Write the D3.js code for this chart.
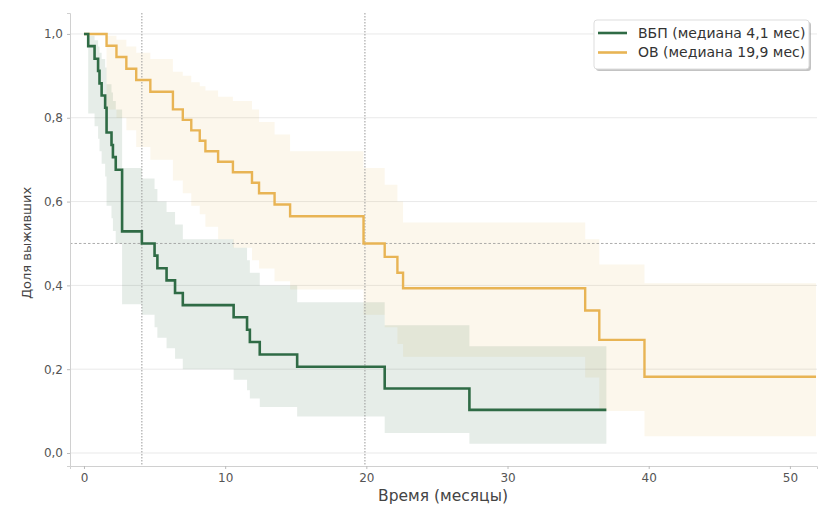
<!DOCTYPE html>
<html><head><meta charset="utf-8">
<script src="https://cdn.jsdelivr.net/npm/d3@7"></script>
<style>
body{margin:0;background:#fff;}
svg{display:block;font-family:"DejaVu Sans",sans-serif;}
</style></head>
<body><svg id="chart" width="828" height="508"></svg>
<script>
// ВБП (PFS)
const pfsTime  = [0, 0.3, 0.75, 1.0, 1.1, 1.25, 1.5, 1.6, 1.95, 2.05, 2.25, 2.7, 4.1, 5.0, 5.2, 5.85, 6.45, 7.0, 10.6, 11.55, 11.75, 12.45, 15.1, 21.3, 27.3, 37.0];
const pfsSurv  = [1.0, 0.971, 0.941, 0.912, 0.882, 0.853, 0.824, 0.765, 0.735, 0.706, 0.676, 0.529, 0.50, 0.471, 0.441, 0.412, 0.382, 0.353, 0.324, 0.294, 0.265, 0.235, 0.206, 0.154, 0.103, 0.103];
const pfsLower = [1.0, 0.81, 0.78, 0.75, 0.72, 0.69, 0.66, 0.59, 0.56, 0.53, 0.50, 0.355, 0.33, 0.30, 0.275, 0.25, 0.225, 0.20, 0.175, 0.15, 0.13, 0.11, 0.087, 0.048, 0.022, 0.022];
const pfsUpper = [1.0, 0.996, 0.985, 0.97, 0.955, 0.94, 0.92, 0.88, 0.86, 0.84, 0.82, 0.68, 0.655, 0.63, 0.60, 0.575, 0.545, 0.51, 0.49, 0.46, 0.43, 0.40, 0.36, 0.305, 0.255, 0.255];
// ОВ (OS)
const osTime  = [0, 1.6, 2.3, 3.0, 3.7, 4.7, 6.3, 7.0, 7.6, 8.2, 8.6, 9.5, 10.55, 11.9, 12.4, 13.5, 14.6, 19.8, 21.3, 22.2, 22.6, 35.5, 36.5, 39.7, 51.85];
const osSurv  = [1.0, 0.972, 0.945, 0.917, 0.89, 0.862, 0.82, 0.795, 0.77, 0.745, 0.72, 0.695, 0.67, 0.645, 0.62, 0.593, 0.565, 0.50, 0.468, 0.43, 0.393, 0.34, 0.27, 0.182, 0.182];
const osLower = [1.0, 0.82, 0.80, 0.77, 0.73, 0.70, 0.65, 0.62, 0.59, 0.57, 0.54, 0.51, 0.49, 0.46, 0.44, 0.41, 0.39, 0.33, 0.30, 0.26, 0.23, 0.18, 0.10, 0.04, 0.04];
const osUpper = [1.0, 0.996, 0.986, 0.97, 0.955, 0.94, 0.91, 0.90, 0.885, 0.875, 0.865, 0.85, 0.84, 0.82, 0.79, 0.76, 0.72, 0.68, 0.64, 0.60, 0.55, 0.51, 0.45, 0.405, 0.405];

const xTicks = [0, 10, 20, 30, 40, 50];
const yTicks = [0, 0.2, 0.4, 0.6, 0.8, 1.0];
const medians = [4.1, 19.9];
const seriesNames = ["ВБП (медиана 4,1 мес)", "ОВ (медиана 19,9 мес)"];
const seriesColors = ["#2f6b45", "#e8b454"];
const xLabel = "Время (месяцы)";
const yLabel = "Доля выживших";

const svg = d3.select("#chart");
const L = 70, R = 817, T = 13, B = 466;
const x = d3.scaleLinear().domain([-0.99, 51.92]).range([L, R]);
const y = d3.scaleLinear().domain([-0.031, 1.05]).range([B, T]);
const fmt = d => d3.format(".1f")(d).replace(".", ",");

// grid
svg.append("g").selectAll("line").data(yTicks).join("line")
  .attr("x1", L).attr("x2", R).attr("y1", d => y(d)).attr("y2", d => y(d))
  .attr("stroke", "#e9e9e9").attr("stroke-width", 1);

function mk(t, s, lo, up) { return t.map((d, i) => ({t: d, s: s[i], lo: lo[i], up: up[i]})); }
const series = [mk(pfsTime, pfsSurv, pfsLower, pfsUpper), mk(osTime, osSurv, osLower, osUpper)];

const area = d3.area().curve(d3.curveStepAfter).x(d => x(d.t)).y0(d => y(d.lo)).y1(d => y(d.up));
const line = d3.line().curve(d3.curveStepAfter).x(d => x(d.t)).y(d => y(d.s));

// bands: OS first then PFS
svg.append("path").datum(series[1]).attr("d", area).attr("fill", seriesColors[1]).attr("fill-opacity", 0.11);
svg.append("path").datum(series[0]).attr("d", area).attr("fill", seriesColors[0]).attr("fill-opacity", 0.12);

// reference lines
svg.append("line").attr("x1", L).attr("x2", R).attr("y1", y(0.5)).attr("y2", y(0.5))
  .attr("stroke", "#9a9a9a").attr("stroke-width", 1).attr("stroke-dasharray", "2.5,2").attr("opacity", 0.8);
svg.append("g").selectAll("line").data(medians).join("line")
  .attr("x1", d => x(d)).attr("x2", d => x(d)).attr("y1", T).attr("y2", B)
  .attr("stroke", "#999").attr("stroke-width", 1).attr("stroke-dasharray", "1.5,1.5");

// lines
svg.append("path").datum(series[1]).attr("d", line).attr("fill", "none").attr("stroke", seriesColors[1]).attr("stroke-width", 2.4);
svg.append("path").datum(series[0]).attr("d", line).attr("fill", "none").attr("stroke", seriesColors[0]).attr("stroke-width", 2.6);

// axes
const xa = svg.append("g").attr("transform", `translate(0,${B})`)
  .call(d3.axisBottom(x).tickValues(xTicks).tickSize(3).tickPadding(4).tickFormat(d3.format("d")));
const ya = svg.append("g").attr("transform", `translate(${L},0)`)
  .call(d3.axisLeft(y).tickValues(yTicks).tickSize(3).tickPadding(4).tickFormat(fmt));
[xa, ya].forEach(a => {
  a.select(".domain").attr("stroke", "#d0d0d0");
  a.selectAll(".tick line").attr("stroke", "#bbb");
  a.selectAll("text").attr("fill", "#555").attr("font-size", 12).attr("font-family", "DejaVu Sans");
});

svg.append("text").attr("x", 443).attr("y", 501).attr("text-anchor", "middle")
  .attr("font-size", 15.5).attr("fill", "#444").text(xLabel);
svg.append("text").attr("transform", `translate(31,243) rotate(-90)`).attr("text-anchor", "middle")
  .attr("font-size", 13).attr("fill", "#444").text(yLabel);

// legend
const lg = svg.append("g").attr("transform", "translate(594,20)");
lg.append("rect").attr("x", 2).attr("y", 2).attr("width", 215).attr("height", 49).attr("rx", 3)
  .attr("fill", "#888").attr("opacity", 0.5);
lg.append("rect").attr("x", 0).attr("y", 0).attr("width", 215).attr("height", 49).attr("rx", 3)
  .attr("fill", "#fff").attr("stroke", "#ddd");
seriesNames.forEach((n, i) => {
  const yy = 13 + i * 19.5;
  lg.append("line").attr("x1", 4).attr("x2", 33).attr("y1", yy).attr("y2", yy)
    .attr("stroke", seriesColors[i]).attr("stroke-width", 2.6);
  lg.append("text").attr("x", 44).attr("y", yy).attr("dy", "0.35em").attr("font-size", 14)
    .attr("fill", "#333").text(n);
});
</script></body></html>
